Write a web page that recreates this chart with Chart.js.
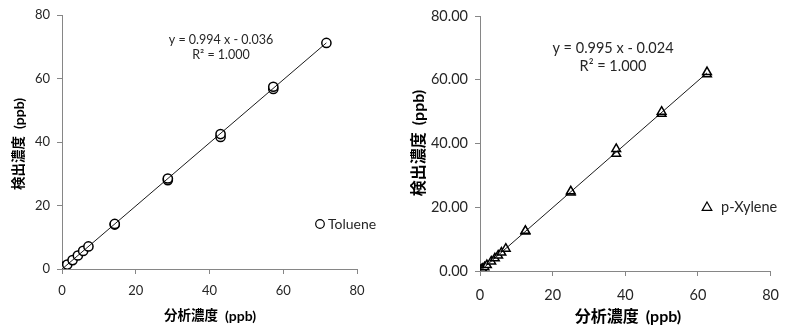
<!DOCTYPE html>
<html><head><meta charset="utf-8">
<script src="https://cdn.jsdelivr.net/npm/chart.js@4/dist/chart.umd.min.js"></script>
<style>
html,body{margin:0;padding:0;background:#fff;}
#wrap{position:relative;width:790px;height:329px;}
.box{position:absolute;top:0;width:395px;height:329px;}
</style></head><body>
<div id="wrap">
<div class="box" style="left:0"><canvas id="c1"></canvas></div>
<div class="box" style="left:395px"><canvas id="c2"></canvas></div>
</div>
<script>
// ---- data ----
const xTicks = [0, 20, 40, 60, 80];
const yTicks = [0, 20, 40, 60, 80];

const tolueneX = [0.07, 0.14, 0.21, 0.29, 0.36, 0.50, 0.72, 0.72, 1.00, 1.43, 2.87, 4.30, 5.74, 7.17, 14.3, 14.3, 28.7, 28.7, 43.0, 43.0, 57.3, 57.3, 71.7];
const tolueneY = [0.05, 0.12, 0.20, 0.25, 0.33, 0.48, 0.68, 0.74, 0.95, 1.40, 2.80, 4.25, 5.70, 7.10, 14.0, 14.2, 28.0, 28.5, 41.6, 42.5, 56.7, 57.4, 71.2];
const tolueneTrendX = [0.07, 71.7];
const tolueneTrendY = [0.03, 71.23];

const xyleneX = [0.06, 0.13, 0.25, 0.38, 0.63, 0.63, 1.25, 1.9, 3.1, 4.1, 5.0, 5.9, 7.1, 12.5, 12.5, 25.0, 25.0, 37.5, 37.5, 50.0, 50.0, 62.5, 62.5];
const xyleneY = [0.05, 0.10, 0.20, 0.36, 0.60, 0.65, 1.20, 1.85, 3.0, 4.0, 4.9, 5.8, 7.0, 12.4, 12.6, 24.6, 25.0, 36.8, 38.3, 49.3, 50.0, 61.7, 62.4];
const xyleneTrendX = [0.06, 62.5];
const xyleneTrendY = [0.04, 62.16];

const tolueneEq = ["y = 0.994 x - 0.036", "R² = 1.000"];
const xyleneEq = ["y = 0.995 x - 0.024", "R² = 1.000"];
const xTitle = ["分析濃度", "(ppb)"];
const yTitle = ["検出濃度", "(ppb)"];

const LAT = "Lato, 'Liberation Sans', sans-serif";
const CJK = "'Noto Sans CJK JP', sans-serif";
const AXIS = '#868686';
const TXT = '#262626';

function pts(xs, ys){ return xs.map((x,i)=>({x:x, y:ys[i]})); }

function drawMixed(ctx, parts, cx, cy, rot){
  ctx.save();
  ctx.translate(cx, cy);
  if (rot) ctx.rotate(-Math.PI/2);
  let widths = parts.map(p=>{ ctx.font = p.font; return ctx.measureText(p.text).width; });
  let gap = 7;
  let total = widths.reduce((a,b)=>a+b,0) + gap*(parts.length-1);
  let x = -total/2;
  ctx.textBaseline = 'middle';
  ctx.textAlign = 'left';
  ctx.fillStyle = '#000';
  parts.forEach((p,i)=>{ ctx.font = p.font; ctx.fillText(p.text, x, p.dy||0); x += widths[i] + gap; });
  ctx.restore();
}

function drawMarker(ctx, style, x, y, r){
  ctx.save();
  ctx.beginPath();
  if (style === 'circle'){
    ctx.arc(x, y, r, 0, Math.PI*2);
  } else {
    ctx.moveTo(x, y - r*1.1);
    ctx.lineTo(x + r*1.05, y + r*0.75);
    ctx.lineTo(x - r*1.05, y + r*0.75);
    ctx.closePath();
  }
  ctx.fillStyle = '#fff';
  ctx.fill();
  ctx.lineWidth = 1.2;
  ctx.strokeStyle = '#000';
  ctx.stroke();
  ctx.restore();
}

const decor = {
  id: 'decor',
  afterDraw(chart){
    const o = chart.options.plugins.decor;
    const ctx = chart.ctx;
    ctx.save();
    ctx.fillStyle = TXT;
    ctx.textAlign = 'center';
    ctx.textBaseline = 'middle';
    ctx.font = o.eqSize + 'px ' + LAT;
    ctx.fillText(o.eq[0], o.eqX, o.eqY1);
    ctx.fillText(o.eq[1], o.eqX, o.eqY2);
    drawMarker(ctx, o.style, o.legX, o.legY, o.legR);
    ctx.fillStyle = TXT;
    ctx.textAlign = 'left';
    ctx.font = o.legSize + 'px ' + LAT;
    ctx.fillText(o.legText, o.legX + o.legGap, o.legY);
    ctx.restore();
    drawMixed(ctx, [
      {text: xTitle[0], font: 'bold ' + o.t1 + 'px ' + CJK},
      {text: xTitle[1], font: 'bold ' + o.t2 + 'px ' + LAT, dy: 1}
    ], o.xtX, o.xtY, false);
    drawMixed(ctx, [
      {text: yTitle[0], font: 'bold ' + o.t1 + 'px ' + CJK},
      {text: yTitle[1], font: 'bold ' + o.t2 + 'px ' + LAT, dy: 1}
    ], o.ytX, o.ytY, true);
  }
};

function makeChart(id, cfg){
  const tickFont = {family: LAT, size: cfg.tickSize};
  new Chart(document.getElementById(id), {
    type: 'scatter',
    data: {
      datasets: [
        { type: 'line', data: pts(cfg.tx, cfg.ty), borderColor: '#000', borderWidth: 0.9,
          pointRadius: 0, fill: false, tension: 0 },
        { data: pts(cfg.x, cfg.y), pointStyle: cfg.style, pointRadius: cfg.r,
          borderColor: '#000', backgroundColor: '#fff', borderWidth: 1.5 }
      ]
    },
    options: {
      responsive: true, maintainAspectRatio: false, animation: false,
      layout: { padding: cfg.pad },
      plugins: { legend: {display:false}, tooltip: {enabled:false}, decor: cfg.decor },
      scales: {
        x: {
          type: 'linear', min: 0, max: 80,
          afterBuildTicks: s => { s.ticks = xTicks.map(v=>({value:v})); },
          afterFit: s => { s.height = cfg.xh; },
          ticks: { font: tickFont, color: TXT, padding: cfg.xpad },
          grid: { drawOnChartArea: false, drawTicks: true, tickLength: 5, color: AXIS },
          border: { color: AXIS, width: 1 }
        },
        y: {
          type: 'linear', min: 0, max: 80,
          afterBuildTicks: s => { s.ticks = yTicks.map(v=>({value:v})); },
          afterFit: s => { s.width = cfg.yw; },
          ticks: { font: tickFont, color: TXT, padding: cfg.ypad, callback: cfg.fmt },
          grid: { drawOnChartArea: false, drawTicks: true, tickLength: 5, color: AXIS },
          border: { color: AXIS, width: 1 }
        }
      }
    },
    plugins: [decor]
  });
}

makeChart('c1', {
  x: tolueneX, y: tolueneY, tx: tolueneTrendX, ty: tolueneTrendY,
  style: 'circle', r: 4.6, tickSize: 13,
  pad: {left: 0, right: 38, top: 15, bottom: 0}, yw: 62, xh: 60, xpad: 9, ypad: 7,
  fmt: v => String(v),
  decor: { eq: tolueneEq, eqSize: 12.5, eqX: 221, eqY1: 40, eqY2: 55,
    style: 'circle', legX: 320, legY: 224, legR: 4.3, legGap: 8, legText: 'Toluene', legSize: 14,
    t1: 13.5, t2: 14, xtX: 210, xtY: 315, ytX: 18, ytY: 144 }
});

makeChart('c2', {
  x: xyleneX, y: xyleneY, tx: xyleneTrendX, ty: xyleneTrendY,
  style: 'triangle', r: 5, tickSize: 14.5,
  pad: {left: 0, right: 15, top: 16, bottom: 0}, yw: 85, xh: 58, xpad: 11, ypad: 7,
  fmt: v => v.toFixed(2),
  decor: { eq: xyleneEq, eqSize: 14.5, eqX: 218, eqY1: 48, eqY2: 66,
    style: 'triangle', legX: 312, legY: 207, legR: 4.6, legGap: 14, legText: 'p-Xylene', legSize: 14.5,
    t1: 16, t2: 16, xtX: 233, xtY: 316, ytX: 23, ytY: 143 }
});
</script>
</body></html>
